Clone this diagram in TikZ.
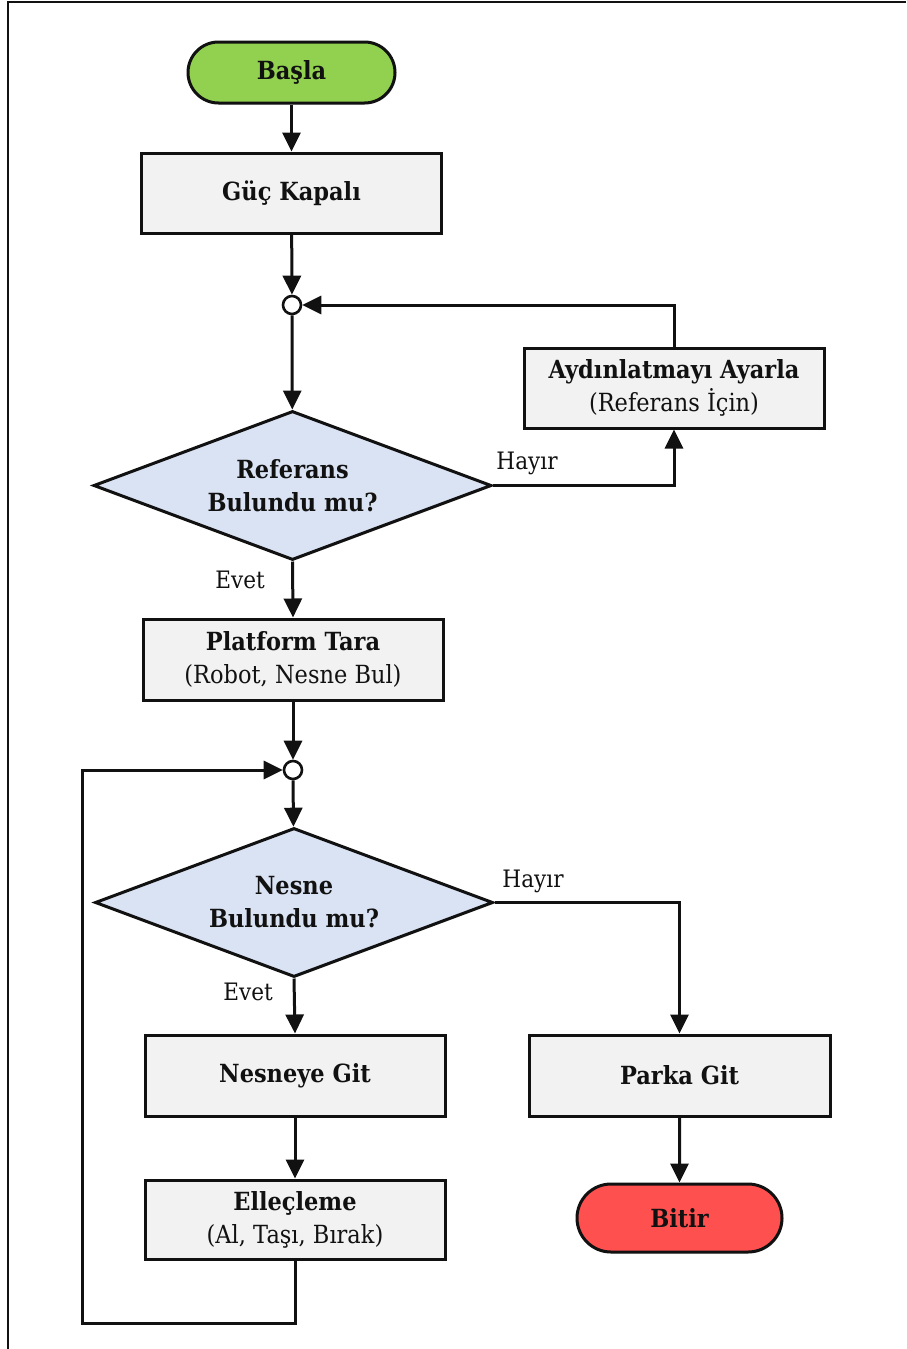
\documentclass[tikz,border=0pt]{standalone}
\usepackage{fontspec}
\setmainfont{DejaVu Serif}[FakeStretch=0.9]
\usetikzlibrary{shapes.geometric,shapes.misc,arrows.meta,shadows}
\definecolor{startgreen}{HTML}{92D050}
\definecolor{stopred}{HTML}{FF5050}
\definecolor{boxgray}{HTML}{F2F2F2}
\definecolor{decblue}{HTML}{DAE3F3}
\definecolor{ink}{HTML}{111111}
\tikzset{
  base/.style={draw=ink, line width=3pt, text=ink, inner sep=0pt, align=center,
    font=\fontsize{25}{33}\selectfont,
    drop shadow={shadow xshift=1.3pt, shadow yshift=-1.3pt, opacity=0.35}},
  terminal/.style={base, rounded rectangle, font=\fontsize{25}{33}\selectfont\bfseries},
  process/.style={base, rectangle, fill=boxgray, minimum width=300pt, minimum height=80pt},
  decision/.style={base, diamond, aspect=2.7, fill=decblue, minimum width=398pt, minimum height=149pt},
  joint/.style={circle, draw=ink, line width=2.6pt, fill=white, minimum size=18pt, inner sep=0pt},
  flow/.style={draw=ink, line width=3pt, -{Triangle[length=19pt,width=18pt]}},
  tag/.style={text=ink, font=\fontsize{24}{28}\selectfont, inner sep=0pt}
}
\begin{document}
\begin{tikzpicture}[x=1pt,y=-1pt]
\useasboundingbox (0,0) rectangle (906,1349);
% outer frame (left and top edges)
\draw[ink, line width=2.6pt] (8,1349) -- (8,2) -- (906,2);

% nodes
\node[terminal, fill=startgreen, minimum width=207pt, minimum height=61pt] (start) at (291.5,72.5) {Başla};
\node[process] (guc) at (291.5,193) {\textbf{Güç Kapalı}};
\node[joint] (j1) at (292,305) {};
\node[decision] (ref) at (292.5,485.5) {\textbf{Referans}\\\textbf{Bulundu mu?}};
\node[process] (ayd) at (674,388) {\textbf{Aydınlatmayı Ayarla}\\(Referans İçin)};
\node[process, minimum height=81pt] (plat) at (293,659.5) {\textbf{Platform Tara}\\(Robot, Nesne Bul)};
\node[joint] (j2) at (293,770) {};
\node[decision] (nes) at (294,902.5) {\textbf{Nesne}\\\textbf{Bulundu mu?}};
\node[process, minimum height=81pt] (nesgit) at (295,1075.5) {\textbf{Nesneye Git}};
\node[process, minimum width=301pt, minimum height=81pt] (park) at (679.5,1075.5) {\textbf{Parka Git}};
\node[process, minimum height=79pt] (ell) at (295,1219.5) {\textbf{Elleçleme}\\(Al, Taşı, Bırak)};
\node[terminal, fill=stopred, minimum width=205pt, minimum height=68pt] (stop) at (679.5,1218) {Bitir};
\coordinate (loop) at (82,1323);

% connectors
\draw[flow] (start) -- (guc);
\draw[flow] (guc) -- (j1);
\draw[flow] (j1) -- (ref);
\draw[flow] (ref.east) -| (ayd.south);
\draw[flow] (ayd.north) |- (j1.east);
\draw[flow] (ref.south) -- (plat.north);
\draw[flow] (plat) -- (j2);
\draw[flow] (j2) -- (nes);
\draw[flow] (nes.east) -| (park.north);
\draw[flow] (nes.south) -- (nesgit.north);
\draw[flow] (nesgit) -- (ell);
\draw[flow] (park) -- (stop);
\draw[flow] (ell.south) |- (loop) |- (j2.west);

% branch labels
\node[tag] (l1) at (527,463) {Hayır};
\node[tag] (l2) at (240,580) {Evet};
\node[tag] (l3) at (533,881) {Hayır};
\node[tag] (l4) at (248,992) {Evet};
\end{tikzpicture}
\end{document}
